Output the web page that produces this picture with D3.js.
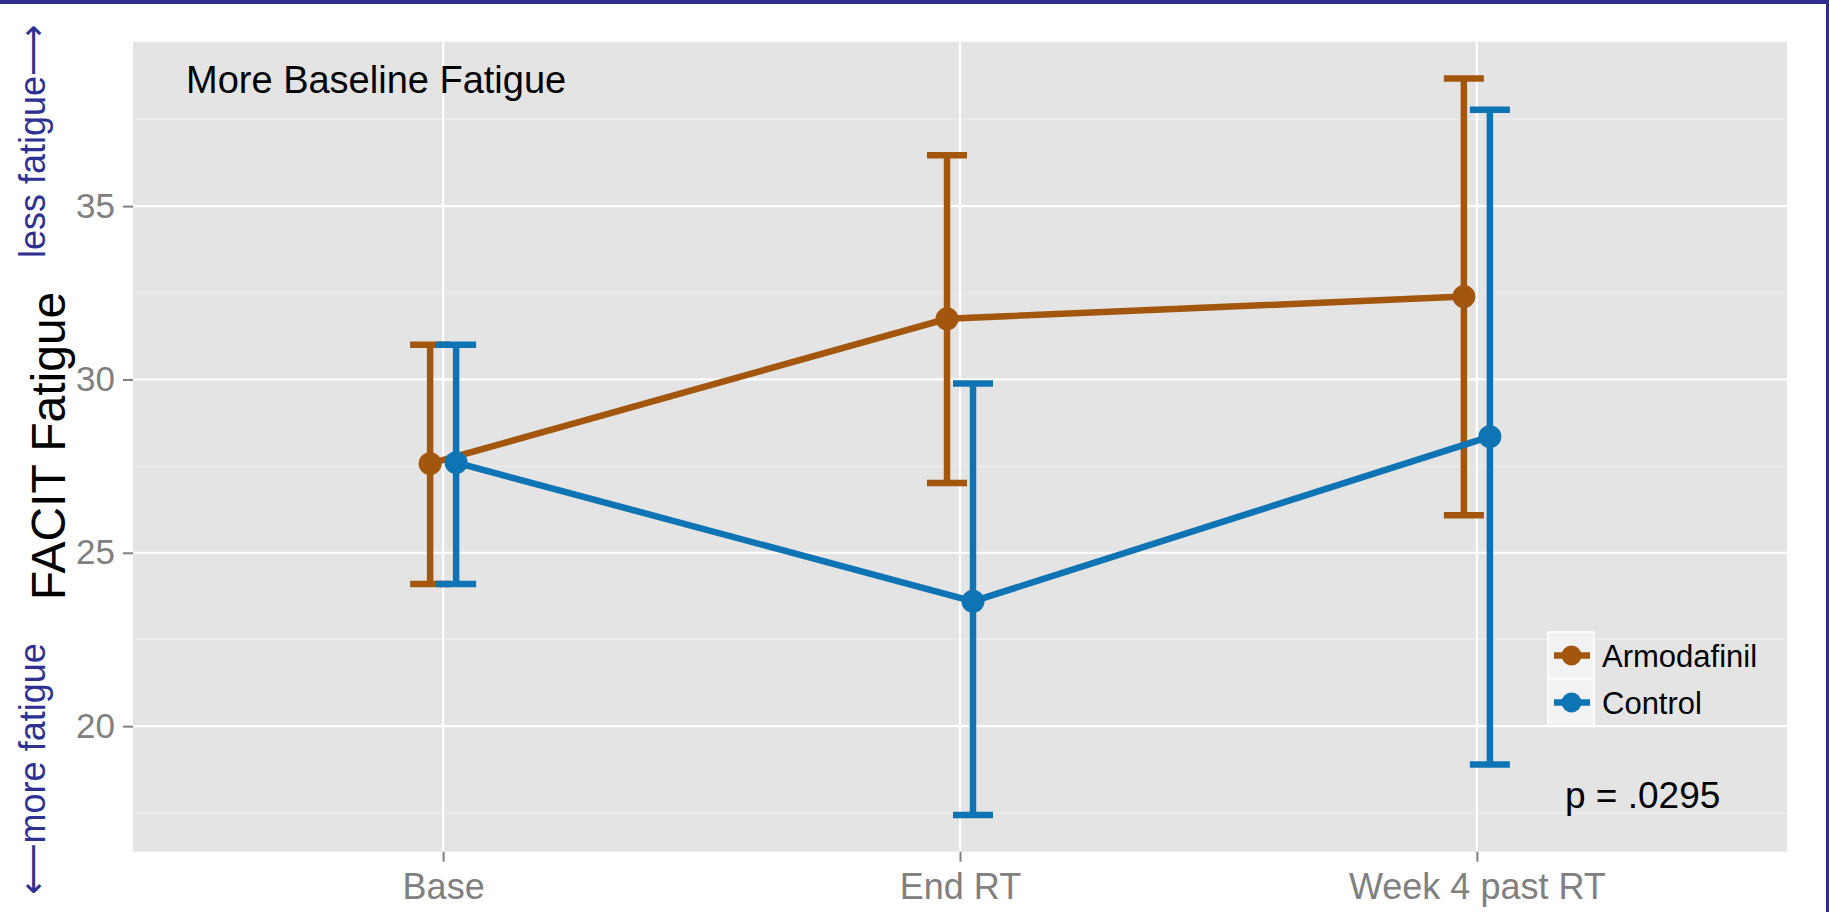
<!DOCTYPE html>
<html>
<head>
<meta charset="utf-8">
<script src="https://cdn.jsdelivr.net/npm/d3@7"></script>
<style>
  html, body { margin: 0; padding: 0; background: #ffffff; }
  svg { display: block; }
  text { font-family: "Liberation Sans", Arial, "DejaVu Sans", sans-serif; }
</style>
</head>
<body>
<svg id="chart" width="1829" height="912"></svg>
<script>
// ---------- data ----------
const categories = ["Base", "End RT", "Week 4 past RT"];
const seriesNames = ["Armodafinil", "Control"];
const armMean  = [27.57, 31.75, 32.39];
const armLower = [24.10, 27.01, 26.08];
const armUpper = [31.00, 36.47, 38.68];
const ctlMean  = [27.60, 23.60, 28.35];
const ctlLower = [24.10, 17.44, 18.89];
const ctlUpper = [31.00, 29.88, 37.78];
const yTicks = [20, 25, 30, 35];
const yMinorTicks = [17.5, 22.5, 27.5, 32.5, 37.5];
const titleText = "More Baseline Fatigue";
const pText = "p = .0295";
const yTitle = "FACIT Fatigue";
const upNote = "less fatigue\u27F6";
const downNote = "\u27F5more fatigue";

// ---------- styles / layout ----------
const W = 1829, H = 912;
const panel = { left: 133, right: 1787, top: 41.7, bottom: 851.7 };
const colors = { Armodafinil: "#A2560E", Control: "#0E74B4" };
const navy = "#2E3192";
const dodge = 13;
const capHalf = 20;
const lw = 6.5;
const ptR = 11.5;

const svg = d3.select("#chart");
svg.append("rect").attr("width", W).attr("height", H).attr("fill", "#ffffff");

const series = [
  { name: seriesNames[0], mean: armMean, lo: armLower, hi: armUpper, off: -dodge },
  { name: seriesNames[1], mean: ctlMean, lo: ctlLower, hi: ctlUpper, off: dodge }
];

const x = d3.scalePoint().domain(categories).range([panel.left, panel.right]).padding(0.6);
const allLo = d3.min([...armLower, ...ctlLower]);
const allHi = d3.max([...armUpper, ...ctlUpper]);
const ext = (allHi - allLo) * 0.05;
const y = d3.scaleLinear().domain([allLo - ext, allHi + ext]).range([panel.bottom, panel.top]);

// panel background
svg.append("rect")
  .attr("x", panel.left).attr("y", panel.top)
  .attr("width", panel.right - panel.left).attr("height", panel.bottom - panel.top)
  .attr("fill", "#E4E4E4");

// minor grid
svg.append("g").selectAll("line").data(yMinorTicks).join("line")
  .attr("x1", panel.left).attr("x2", panel.right)
  .attr("y1", d => y(d)).attr("y2", d => y(d))
  .attr("stroke", "#EDEDED").attr("stroke-width", 1.2);
// major grid
svg.append("g").selectAll("line").data(yTicks).join("line")
  .attr("x1", panel.left).attr("x2", panel.right)
  .attr("y1", d => y(d)).attr("y2", d => y(d))
  .attr("stroke", "#ffffff").attr("stroke-width", 2.2);
svg.append("g").selectAll("line").data(categories).join("line")
  .attr("x1", d => x(d)).attr("x2", d => x(d))
  .attr("y1", panel.top).attr("y2", panel.bottom)
  .attr("stroke", "#ffffff").attr("stroke-width", 2.2);

// axes
const yAxis = d3.axisLeft(y).tickValues(yTicks).tickSize(10).tickPadding(8);
const gy = svg.append("g").attr("transform", `translate(${panel.left},0)`).call(yAxis);
gy.select(".domain").remove();
gy.selectAll(".tick line").attr("stroke", "#808080").attr("stroke-width", 2);
gy.selectAll(".tick text").attr("fill", "#808080").attr("font-size", 35)
  .attr("font-family", "'Liberation Sans', Arial, sans-serif");

const xAxis = d3.axisBottom(x).tickSize(10).tickPadding(12);
const gx = svg.append("g").attr("transform", `translate(0,${panel.bottom})`).call(xAxis);
gx.select(".domain").remove();
gx.selectAll(".tick line").attr("stroke", "#808080").attr("stroke-width", 2);
gx.selectAll(".tick text").attr("fill", "#808080").attr("font-size", 36)
  .attr("font-family", "'Liberation Sans', Arial, sans-serif");

// series
series.forEach(s => {
  const c = colors[s.name];
  const g = svg.append("g");
  const pts = categories.map((cat, i) => ({ cx: x(cat) + s.off, m: s.mean[i], lo: s.lo[i], hi: s.hi[i] }));
  g.selectAll("line.v").data(pts).join("line").attr("class", "v")
    .attr("x1", d => d.cx).attr("x2", d => d.cx)
    .attr("y1", d => y(d.lo)).attr("y2", d => y(d.hi))
    .attr("stroke", c).attr("stroke-width", lw);
  g.selectAll("line.ct").data(pts).join("line").attr("class", "ct")
    .attr("x1", d => d.cx - capHalf).attr("x2", d => d.cx + capHalf)
    .attr("y1", d => y(d.hi)).attr("y2", d => y(d.hi))
    .attr("stroke", c).attr("stroke-width", lw);
  g.selectAll("line.cb").data(pts).join("line").attr("class", "cb")
    .attr("x1", d => d.cx - capHalf).attr("x2", d => d.cx + capHalf)
    .attr("y1", d => y(d.lo)).attr("y2", d => y(d.lo))
    .attr("stroke", c).attr("stroke-width", lw);
  g.append("path").datum(pts)
    .attr("d", d3.line().x(d => d.cx).y(d => y(d.m)))
    .attr("fill", "none").attr("stroke", c).attr("stroke-width", lw);
  g.selectAll("circle").data(pts).join("circle")
    .attr("cx", d => d.cx).attr("cy", d => y(d.m)).attr("r", ptR).attr("fill", c);
});

// annotations
svg.append("text").attr("x", 186).attr("y", 93).attr("font-size", 38).attr("fill", "#000")
  .text(titleText);
svg.append("text").attr("x", 1565).attr("y", 808).attr("font-size", 37).attr("fill", "#000")
  .text(pText);

// legend
const legX = 1548, legY = 632, keyW = 46, keyH = 47;
const leg = svg.append("g");
seriesNames.forEach((n, i) => {
  const ky = legY + i * keyH;
  leg.append("rect").attr("x", legX).attr("y", ky).attr("width", keyW).attr("height", keyH)
    .attr("fill", "#F2F2F2").attr("stroke", "#ffffff").attr("stroke-width", 1.5);
  leg.append("line").attr("x1", legX + 6).attr("x2", legX + keyW - 4)
    .attr("y1", ky + keyH / 2).attr("y2", ky + keyH / 2)
    .attr("stroke", colors[n]).attr("stroke-width", lw);
  leg.append("circle").attr("cx", legX + 23.5).attr("cy", ky + keyH / 2).attr("r", 10).attr("fill", colors[n]);
  leg.append("text").attr("x", 1602).attr("y", ky + keyH / 2 + 11).attr("font-size", 31).attr("fill", "#000")
    .text(n);
});

// y title
svg.append("text").attr("transform", "translate(65,446) rotate(-90)")
  .attr("text-anchor", "middle").attr("font-size", 48).attr("fill", "#000")
  .text(yTitle);
// side notes
svg.append("text").attr("transform", "translate(45,258) rotate(-90)")
  .attr("text-anchor", "start").attr("font-size", 36).attr("fill", navy)
  .text(upNote);
svg.append("text").attr("transform", "translate(45,895) rotate(-90)")
  .attr("text-anchor", "start").attr("font-size", 36).attr("fill", navy)
  .text(downNote);

// frame
svg.append("rect").attr("x", 0).attr("y", 0).attr("width", W).attr("height", 4).attr("fill", navy);
svg.append("rect").attr("x", W - 3).attr("y", 0).attr("width", 3).attr("height", H).attr("fill", navy);
</script>
</body>
</html>
